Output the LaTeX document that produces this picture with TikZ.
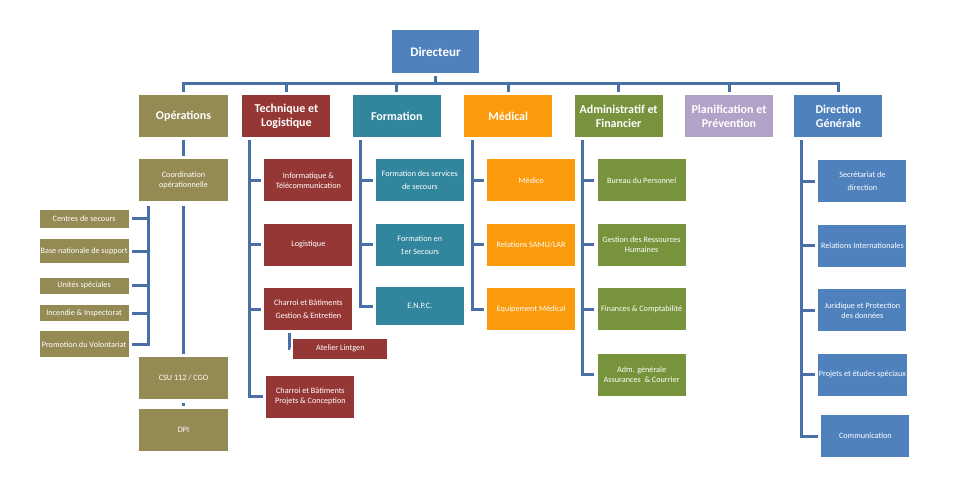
\documentclass[tikz,border=0pt]{standalone}
\usepackage{fontspec}
\setmainfont{Carlito}
\usepackage{tikz}
\usetikzlibrary{positioning}
\usepackage{xcolor}

\definecolor{cdir}{HTML}{4F81BD}
\definecolor{cops}{HTML}{948A54}
\definecolor{ctech}{HTML}{953735}
\definecolor{cform}{HTML}{31859C}
\definecolor{cmed}{HTML}{FB9A0A}
\definecolor{cadm}{HTML}{77933C}
\definecolor{cplan}{HTML}{B3A2C7}
\definecolor{cline}{HTML}{4A6EA6}

\begin{document}
\begin{tikzpicture}[
				x=1pt,y=-1pt,
				head/.style={fill=#1,text=white,font=\bfseries\fontsize{12}{14}\selectfont,minimum width=88pt,minimum height=42pt,inner sep=1pt,align=center},
				sub/.style={fill=#1,text=white,font=\fontsize{8.2}{10}\selectfont,minimum width=88pt,minimum height=42pt,inner sep=1pt,align=center},
				wire/.style={draw=cline,line width=3pt},
				link/.style={wire,shorten >=3pt}
				]
				\useasboundingbox (0,0) rectangle (960,503);
				
				% Directeur
				\node[head=cdir,font=\bfseries\fontsize{13}{15}\selectfont,minimum width=87pt,minimum height=43pt] (dir) at (435.5,51.5) {Directeur};
				
				% Directions
				\node[head=cops,minimum width=89pt] (ops) at (183.5,116) {Opérations};
				\node[head=ctech,right=14pt of ops] (tech) {Technique et\\Logistique};
				\node[head=cform,right=22pt of tech] (form) {Formation};
				\node[head=cmed,right=23pt of form] (med) {Médical};
				\node[head=cadm,right=22pt of med] (adm) {Administratif et\\Financier};
				\node[head=cplan,right=22pt of adm] (plan) {Planification et\\Prévention};
				\node[head=cdir,right=21pt of plan] (dg) {Direction\\Générale};
				
				% Opérations
				\node[sub=cops,minimum width=89pt,below=22pt of ops] (coord) {Coordination\\opérationnelle};
				\node[sub=cops,minimum width=89pt,minimum height=18pt,below left=8pt and 10pt of coord.south west] (centres) {Centres de secours};
				\node[sub=cops,minimum width=89pt,minimum height=24pt,below=11pt of centres] (base) {Base nationale de support};
				\node[sub=cops,minimum width=89pt,minimum height=16pt,below=14pt of base] (unites) {Unités spéciales};
				\node[sub=cops,minimum width=89pt,minimum height=16pt,below=11pt of unites] (incendie) {Incendie \& Inspectorat};
				\node[sub=cops,minimum width=89pt,minimum height=26pt,below=10pt of incendie] (promo) {Promotion du Volontariat};
				\node[sub=cops,minimum width=89pt,below=155pt of coord] (csu) {CSU 112 / CGO};
				\node[sub=cops,minimum width=89pt,below=10pt of csu] (dpi) {DPI};
				
				% Technique et Logistique
				\node[sub=ctech,below right=22pt and 22pt of tech.south west] (info) {Informatique \&\\Télécommunication};
				\node[sub=ctech,below=22pt of info] (logi) {Logistique};
				\node[sub=ctech,below=22pt of logi] (charroi) {Charroi et Bâtiments\\[3pt]Gestion \& Entretien};
				\node[sub=ctech,minimum width=94pt,minimum height=20pt,below right=8pt and 29pt of charroi.south west] (atelier) {Atelier Lintgen};
				\node[sub=ctech,below=45pt of charroi,xshift=2pt] (projets) {Charroi et Bâtiments\\Projets \& Conception};
				
				% Formation
				\node[sub=cform,below right=22pt and 23pt of form.south west] (fss) {Formation des services\\[3pt]de secours};
				\node[sub=cform,below=22pt of fss] (fps) {Formation en\\[3pt]1er Secours};
				\node[sub=cform,minimum height=38pt,below=21pt of fps] (enpc) {E.N.P.C.};
				
				% Médical
				\node[sub=cmed,below right=22pt and 23pt of med.south west] (medico) {Médico};
				\node[sub=cmed,below=22pt of medico] (samu) {Relations SAMU/LAR};
				\node[sub=cmed,below=22pt of samu] (equip) {Equipement Médical};
				
				% Administratif et Financier
				\node[sub=cadm,below right=22pt and 23pt of adm.south west] (bureau) {Bureau du Personnel};
				\node[sub=cadm,below=22pt of bureau] (grh) {Gestion des Ressources\\Humaines};
				\node[sub=cadm,below=22pt of grh] (fin) {Finances \& Comptabilité};
				\node[sub=cadm,below=23pt of fin] (admg) {Adm. générale\\Assurances~ \& Courrier};
				
				% Direction Générale
				\node[sub=cdir,below right=23pt and 24pt of dg.south west] (secr) {Secrétariat de\\[3pt]direction};
				\node[sub=cdir,below=22pt of secr] (relint) {Relations Internationales};
				\node[sub=cdir,below=22pt of relint] (jur) {Juridique et Protection\\des données};
				\node[sub=cdir,below=22pt of jur] (etudes) {Projets et études spéciaux};
				\node[sub=cdir,below=19pt of etudes,xshift=3pt] (comm) {Communication};
				
				% Liaisons du Directeur
				\draw[wire] ([yshift=-3pt]dir.south) -- ++(0,-7pt) coordinate (bus);
				\draw[link] (bus) -| (ops.north);
				\draw[link] (bus) -| (tech.north);
				\draw[link] (bus) -| (form.north);
				\draw[link] (bus) -| (med.north);
				\draw[link] (bus) -| (adm.north);
				\draw[link] (bus) -| (plan.north);
				\draw[link] (bus) -| (dg.north);
				
				% Liaisons Opérations
				\draw[link] ([yshift=-3pt]ops.south) -- (coord.north);
				\draw[link] ([yshift=-4pt]coord.south) -- (csu.north);
				\draw[link] ([yshift=-4pt]csu.south) -- (dpi.north);
				\coordinate (opsbus) at ([xshift=-35pt,yshift=-4pt]coord.south);
				\draw[link] (opsbus) |- (promo.east);
				\draw[link] (opsbus |- centres.east) -- (centres.east);
				\draw[link] (opsbus |- base.east) -- (base.east);
				\draw[link] (opsbus |- unites.east) -- (unites.east);
				\draw[link] (opsbus |- incendie.east) -- (incendie.east);
				
				% Liaisons Technique
				\coordinate (techbus) at ([xshift=7pt,yshift=-3pt]tech.south west);
				\draw[link] (techbus) |- (projets.west);
				\draw[link] (techbus |- info.west) -- (info.west);
				\draw[link] (techbus |- logi.west) -- (logi.west);
				\draw[link] (techbus |- charroi.west) -- (charroi.west);
				\draw[link] ([xshift=25pt,yshift=-3pt]charroi.south west) |- (atelier.west);
				
				% Liaisons Formation
				\coordinate (formbus) at ([xshift=8pt,yshift=-3pt]form.south west);
				\draw[link] (formbus) |- (enpc.west);
				\draw[link] (formbus |- fss.west) -- (fss.west);
				\draw[link] (formbus |- fps.west) -- (fps.west);
				
				% Liaisons Médical
				\coordinate (medbus) at ([xshift=8pt,yshift=-3pt]med.south west);
				\draw[link] (medbus) |- (equip.west);
				\draw[link] (medbus |- medico.west) -- (medico.west);
				\draw[link] (medbus |- samu.west) -- (samu.west);
				
				% Liaisons Administratif
				\coordinate (admbus) at ([xshift=8pt,yshift=-3pt]adm.south west);
				\draw[link] (admbus) |- (admg.west);
				\draw[link] (admbus |- bureau.west) -- (bureau.west);
				\draw[link] (admbus |- grh.west) -- (grh.west);
				\draw[link] (admbus |- fin.west) -- (fin.west);
				
				% Liaisons Direction Générale
				\coordinate (dgbus) at ([xshift=7pt,yshift=-3pt]dg.south west);
				\draw[link] (dgbus) |- (comm.west);
				\draw[link] (dgbus |- secr.west) -- (secr.west);
				\draw[link] (dgbus |- relint.west) -- (relint.west);
				\draw[link] (dgbus |- jur.west) -- (jur.west);
				\draw[link] (dgbus |- etudes.west) -- (etudes.west);
				
			\end{tikzpicture}
\end{document}
